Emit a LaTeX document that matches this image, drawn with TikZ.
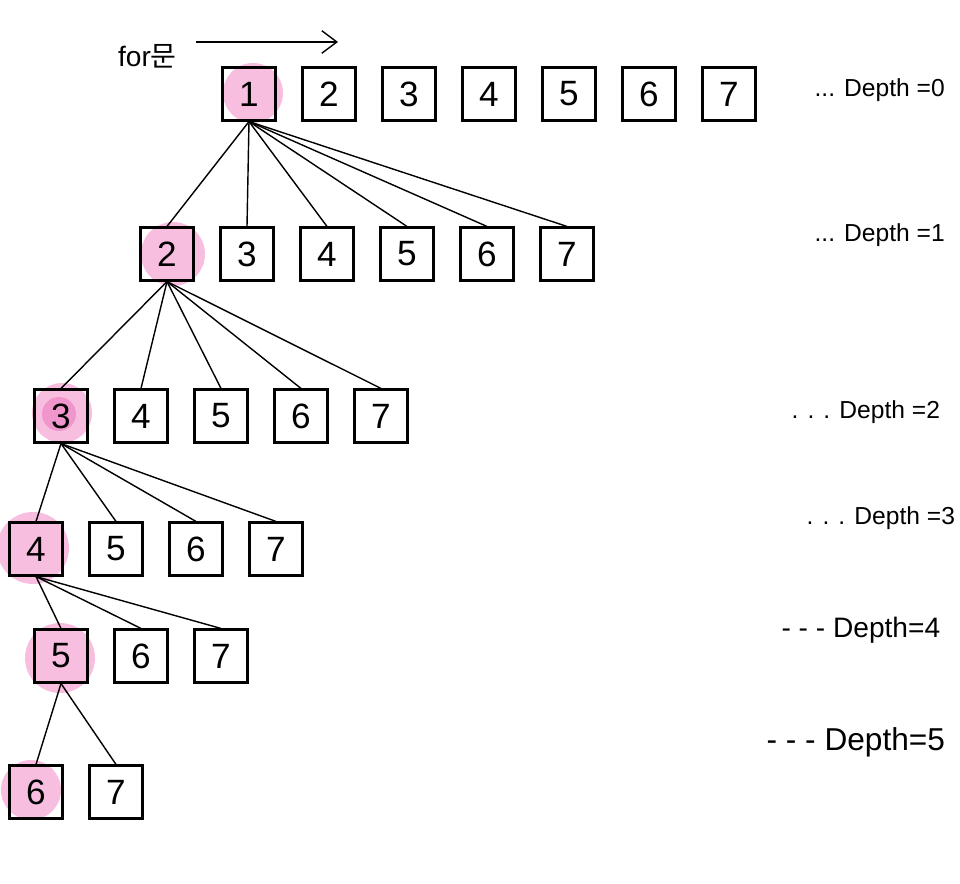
\documentclass[tikz,border=0pt]{standalone}
\usepackage{fontspec}
\setmainfont{Liberation Sans}
\newfontfamily\krfont{Noto Sans CJK KR}
\usepackage{tikz}
\usetikzlibrary{arrows.meta}
\definecolor{hlpink}{RGB}{248,190,224}
\definecolor{hldeep}{RGB}{240,150,205}

\begin{document}
\begin{tikzpicture}[every path/.style={thick},%
        box/.style={draw, line width=1.2pt, minimum size=1.06cm, inner sep=0pt, font=\fontsize{20}{24}\selectfont},
        depthlbl/.style={anchor=west, font=\fontsize{14}{16}\selectfont}]
        \useasboundingbox (0,0) rectangle (19.2,-17.68);
        % highlights
        \fill[hlpink] (5.06,-1.86) circle (0.6);
        \fill[hlpink] (3.46,-5.08) circle (0.64);
        \fill[hlpink] (1.24,-8.26) circle (0.6);
        \fill[hldeep] (1.18,-8.28) circle (0.34);
        \fill[hlpink] (0.66,-10.96) circle (0.72);
        \fill[hlpink] (1.2,-13.16) circle (0.7);
        \fill[hlpink] (0.62,-15.8) circle (0.6);
        % rows of boxes
        \foreach \d/\f/\x/\y in {0/1/4.98/-1.88, 1/2/3.34/-5.08, 2/3/1.22/-8.32, 3/4/0.72/-10.98, 4/5/1.22/-13.12, 5/6/0.72/-15.84}{
            \foreach \k in {\f,...,7}{
                \node[box] (d\d-\k) at ({\x+1.6*(\k-\f)},\y) {\k};
            }
        }
        % edges
        \foreach \d in {0,...,4}{
            \pgfmathtruncatemacro\nxt{\d+1}
            \pgfmathtruncatemacro\fc{\d+2}
            \foreach \k in {\fc,...,7}
                \draw (d\d-\nxt.south) -- (d\nxt-\k.north);
        }
        % for loop arrow
        \node[font=\fontsize{16}{18}\selectfont] (forlbl) at (2.95,-1.12) {for{\krfont 문}};
        \coordinate (arrs) at (3.92,-0.84);
        \coordinate (arre) at (6.76,-0.84);
        \draw[-{Straight Barb[length=3mm,width=4.5mm]}] (arrs) -- (arre);
        % depth labels
        \node[depthlbl] (lbl0) at (16.16,-1.8) {... Depth =0};
        \node[depthlbl] (lbl1) at (16.16,-4.7) {... Depth =1};
        \node[depthlbl] (lbl2) at (15.7,-8.24) {. . . Depth =2};
        \node[depthlbl] (lbl3) at (16.0,-10.36) {. . . Depth =3};
        \node[depthlbl, font=\fontsize{16}{18}\selectfont] (lbl4) at (15.5,-12.6) {- - - Depth=4};
        \node[depthlbl, font=\fontsize{18}{20}\selectfont] (lbl5) at (15.2,-14.84) {- - - Depth=5};
    \end{tikzpicture}
\end{document}
